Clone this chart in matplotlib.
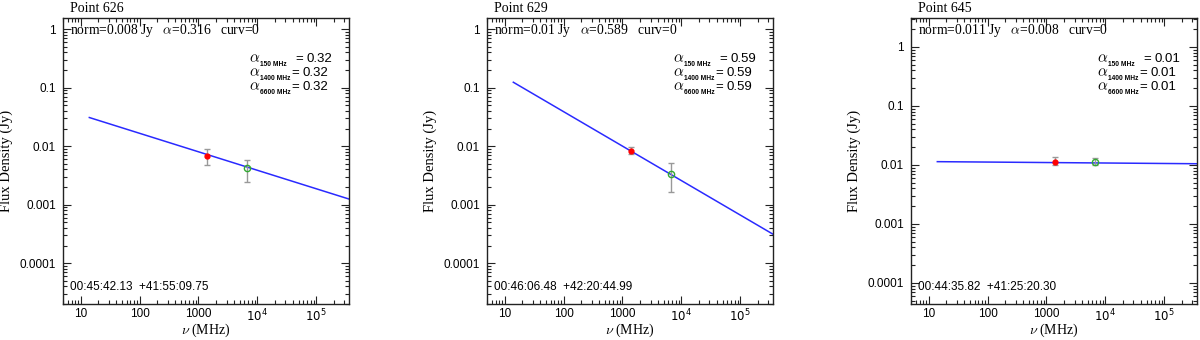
import numpy as np
import matplotlib
matplotlib.use("Agg")
import matplotlib.pyplot as plt
from matplotlib.ticker import FixedLocator, LogLocator, NullFormatter

# ---- data ----
point_names = ["Point 626", "Point 629", "Point 645"]
norms = [0.008, 0.01, 0.011]          # Jy at 1000 MHz
alphas = [0.316, 0.589, 0.008]
curvs = [0, 0, 0]
alpha_150 = [0.32, 0.59, 0.01]
alpha_1400 = [0.32, 0.59, 0.01]
alpha_6600 = [0.32, 0.59, 0.01]
coords = ["00:45:42.13  +41:55:09.75",
          "00:46:06.48  +42:20:44.99",
          "00:44:35.82  +41:25:20.30"]
freq_obs = [1400, 6600]               # MHz
flux_1400 = [0.0068, 0.0083, 0.0114]
err_1400_lo = [0.0020, 0.0010, 0.0015]
err_1400_hi = [0.0021, 0.0012, 0.0021]
flux_6600 = [0.0042, 0.00337, 0.0114]
err_6600_lo = [0.00173, 0.0017, 0.0014]
err_6600_hi = [0.00165, 0.00173, 0.0018]
ylims = [(2.0e-5, 1.55), (2.0e-5, 1.55), (4.4e-5, 3.1)]
xlim = (5.0, 3.6e5)
fit_start = 14.0
xtick_vals = [10, 100, 1000, 1e4, 1e5]
xtick_labels = ["10", "100", "1000", r"$10^4$", r"$10^5$"]
ytick_vals = [1, 0.1, 0.01, 0.001, 0.0001]
ytick_labels = ["1", "0.1", "0.01", "0.001", "0.0001"]
sub_labels = ["150 MHz", "1400 MHz", "6600 MHz"]

plt.rcParams["mathtext.fontset"] = "dejavusans"
serif = "Liberation Serif"
sans = "Liberation Sans"

fig = plt.figure(figsize=(12, 3.4), dpi=100)
lefts = [63, 487, 911]
W, H = 1200, 340
for i in range(3):
    ax = fig.add_axes([lefts[i] / W, 36 / H, 286 / W, 286 / H])
    ax.set_xscale("log")
    ax.set_yscale("log")
    ax.set_xlim(*xlim)
    ax.set_ylim(*ylims[i])

    nu = np.logspace(np.log10(fit_start), np.log10(xlim[1]), 200)
    ax.plot(nu, norms[i] * (nu / 1000.0) ** (-alphas[i]), color="#2a2aff", lw=1.1, zorder=2)

    ax.errorbar([freq_obs[0]], [flux_1400[i]],
                yerr=[[err_1400_lo[i]], [err_1400_hi[i]]],
                fmt="o", ms=3.5, color="red", mec="red", ecolor="#999999",
                elinewidth=1.0, capsize=2.5, capthick=1.0, zorder=3)
    ax.errorbar([freq_obs[1]], [flux_6600[i]],
                yerr=[[err_6600_lo[i]], [err_6600_hi[i]]],
                fmt="o", ms=4.5, mfc="none", mec="#33aa33", mew=1.0, ecolor="#999999",
                elinewidth=1.0, capsize=2.5, capthick=1.0, zorder=3)

    ax.xaxis.set_major_locator(FixedLocator(xtick_vals))
    ax.set_xticklabels(xtick_labels, family=sans, fontsize=8.5)
    ax.xaxis.set_minor_locator(LogLocator(base=10, subs=np.arange(2, 10)))
    ax.xaxis.set_minor_formatter(NullFormatter())
    ax.yaxis.set_major_locator(FixedLocator(ytick_vals))
    ax.set_yticklabels(ytick_labels, family=sans, fontsize=8.5)
    ax.yaxis.set_minor_locator(LogLocator(base=10, subs=np.arange(2, 10)))
    ax.yaxis.set_minor_formatter(NullFormatter())
    ax.tick_params(which="both", direction="in", top=True, right=True, width=0.8, color="#222222")
    ax.tick_params(which="major", length=6)
    ax.tick_params(which="minor", length=3)
    ax.tick_params(axis="x", which="major", pad=3)
    ax.tick_params(axis="y", which="major", pad=5)
    for s in ax.spines.values():
        s.set_linewidth(1.0)
        s.set_color("#222222")

    ax.set_xlabel(r"$\nu$ (MHz)", family=serif, fontsize=10, math_fontfamily="cm")
    ax.xaxis.set_label_coords(0.5, -0.093)
    ax.xaxis.label.set_va("center")
    ax.set_ylabel("Flux Density (Jy)", family=serif, fontsize=10.5, labelpad=5)

    ax.text(0.025, 1.012, point_names[i], transform=ax.transAxes, family=serif,
            fontsize=10, ha="left", va="bottom")
    ax.text(0.025, 0.955, "norm=%g Jy   $\\alpha$=%g   curv=%d" % (norms[i], alphas[i], curvs[i]),
            transform=ax.transAxes, family=serif, fontsize=9.8, ha="left", va="center",
            math_fontfamily="cm")
    ax.text(0.025, 0.06, coords[i], transform=ax.transAxes, family=sans,
            fontsize=8.5, ha="left", va="center")

    vals = [alpha_150[i], alpha_1400[i], alpha_6600[i]]
    eq_x = [0.811, 0.80, 0.80]
    val_x = [0.853, 0.839, 0.839]
    for k in range(3):
        yy = 0.858 - k * 0.05
        ax.text(0.652, yy + 0.004, r"$\alpha$", transform=ax.transAxes,
                fontsize=11, ha="left", va="center", math_fontfamily="cm")
        ax.text(0.69, yy - 0.02, sub_labels[k], transform=ax.transAxes, family=sans,
                fontsize=4.8, fontweight="bold", ha="left", va="center")
        ax.text(eq_x[k], yy, "=", transform=ax.transAxes, family=sans,
                fontsize=9.5, ha="left", va="center")
        ax.text(val_x[k], yy, "%.2f" % vals[k], transform=ax.transAxes, family=sans,
                fontsize=9.5, ha="left", va="center")

fig.savefig("out.png", dpi=100)
